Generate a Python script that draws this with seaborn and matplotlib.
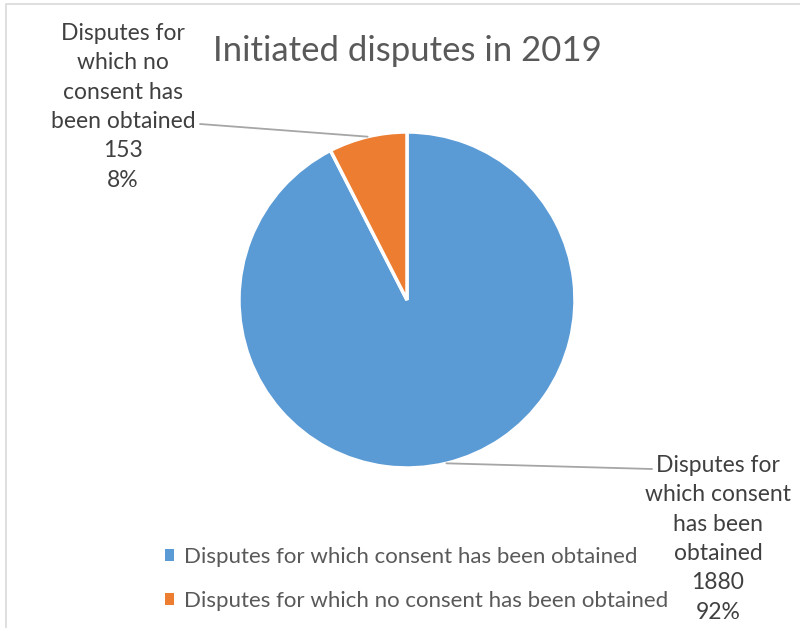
import numpy as np
import matplotlib
matplotlib.use("Agg")
import matplotlib.pyplot as plt
import matplotlib.patches as mpatches
import seaborn as sns

# Data
CATEGORIES = ["Disputes for which consent has been obtained",
              "Disputes for which no consent has been obtained"]
LABEL_TEXT = ["Disputes for\nwhich consent\nhas been\nobtained",
              "Disputes for\nwhich no\nconsent has\nbeen obtained"]
VALUES = [1880, 153]
COLORS = ["#5B9BD5", "#ED7D31"]
TITLE = "Initiated disputes in 2019"

W, H = 800, 628

sns.set_theme(style="white")
plt.rcParams["font.family"] = ["Lato", "DejaVu Sans"]

fig = plt.figure(figsize=(W / 100, H / 100), dpi=100)
fig.patch.set_facecolor("white")

# chart border (cropped at right and bottom)
fig.patches.append(mpatches.Rectangle((6 / W, -0.1), 1.2, (H - 4) / H + 0.1,
                                      transform=fig.transFigure, fill=False,
                                      edgecolor="#d9d9d9", lw=1.2))

# pie axes: centre (407, 300) px, radius 168 px
cx, cy, r = 407, 300, 168
ax = fig.add_axes([(cx - r) / W, (H - cy - r) / H, 2 * r / W, 2 * r / H])
wedges, _ = ax.pie(VALUES, colors=COLORS, startangle=90, counterclock=False,
                   radius=1, wedgeprops=dict(edgecolor="white", linewidth=2.5))
ax.set_xlim(-1, 1)
ax.set_ylim(-1, 1)
ax.set_aspect("equal")
ax.axis("off")

fig.text(407 / W, 1 - 51 / H, TITLE, ha="center", va="center",
         fontsize=25, color="#595959")

total = sum(VALUES)
# label block positions (top-centre, px) and leader end (px)
label_pos = [(718, 455), (123, 23)]
leader_end = [(652, 469), (200, 124)]
for i, w in enumerate(wedges):
    mid = np.deg2rad((w.theta1 + w.theta2) / 2)
    pct = round(VALUES[i] / total * 100)
    txt = f"{LABEL_TEXT[i]}\n{VALUES[i]}\n{pct}%"
    lx, ly = label_pos[i]
    fig.text(lx / W, 1 - ly / H, txt, ha="center", va="top", fontsize=16.5,
             color="#404040", linespacing=1.49)
    ex, ey = leader_end[i]
    ax.annotate("", xy=(np.cos(mid), np.sin(mid)), xytext=(ex, H - ey),
                textcoords="figure pixels",
                arrowprops=dict(arrowstyle="-", color="#a6a6a6", lw=1.3,
                                shrinkA=0, shrinkB=0))

leg = fig.legend(wedges, CATEGORIES, loc="upper left",
                 bbox_to_anchor=(145 / W, 1 - 527 / H), frameon=False,
                 fontsize=16, labelcolor="#595959", handlelength=0.42,
                 handleheight=0.42, handletextpad=0.42, labelspacing=1.07)
for h in leg.legend_handles:
    h.set_edgecolor("none")

fig.savefig("out.png", dpi=100, facecolor="white")
